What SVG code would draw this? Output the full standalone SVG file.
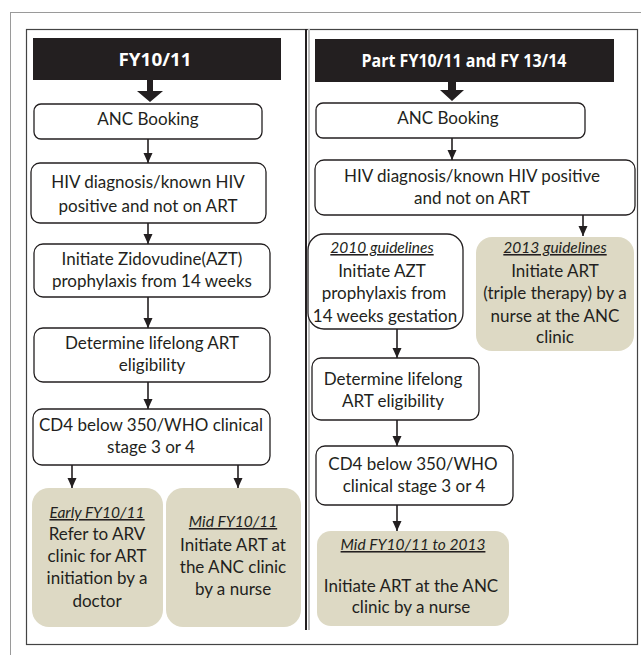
<svg xmlns="http://www.w3.org/2000/svg" width="641" height="655" viewBox="0 0 641 655">
<defs>
<style>
.box{fill:#fff;stroke:#231f20;stroke-width:1.3}
.tan{fill:#ddd9c4;stroke:none}
.t{font-family:Lato,"Liberation Sans",sans-serif;font-size:17px;fill:#231f20;text-anchor:middle}
.i{font-style:italic;text-decoration:underline;font-size:15.5px}
.h{font-family:"Open Sans","Liberation Sans",sans-serif;font-weight:bold;font-size:17.5px;fill:#fff;text-anchor:middle}
.ln{stroke:#231f20;stroke-width:1.6;fill:none}
</style>
<marker id="ah" markerWidth="11" markerHeight="11" refX="10" refY="5" orient="auto" markerUnits="userSpaceOnUse">
<path d="M0,0.5 L10,5 L0,9.5 Z" fill="#231f20"/>
</marker>
</defs>
<rect width="641" height="655" fill="#fff"/>
<rect x="10.5" y="12.5" width="700" height="700" fill="none" stroke="#9a9a9a" stroke-width="1"/>
<rect x="26.5" y="29.5" width="611" height="615" fill="none" stroke="#444" stroke-width="1.2"/>
<g id="divider">
<line x1="309" y1="29" x2="309" y2="630" stroke="#bbb" stroke-width="2"/>
<line x1="306" y1="29" x2="306" y2="630" stroke="#231f20" stroke-width="2"/>
</g>

<g id="left-header">
<rect x="33" y="38" width="248" height="42" fill="#231f20"/>
<text class="h" x="155" y="66" textLength="73" lengthAdjust="spacingAndGlyphs">FY10/11</text>
</g>
<g id="right-header">
<rect x="315" y="39" width="299" height="43" fill="#231f20"/>
<text class="h" x="464" y="67" textLength="205" lengthAdjust="spacingAndGlyphs">Part FY10/11 and FY 13/14</text>
</g>

<g id="L-anc">
<rect class="box" x="34" y="104" width="228" height="35" rx="7"/>
<text class="t" x="148" y="125">ANC Booking</text>
</g>
<g id="L-hiv">
<rect class="box" x="31" y="163" width="235" height="60" rx="9"/>
<text class="t" x="148" y="188">HIV diagnosis/known HIV</text>
<text class="t" x="148" y="212">positive and not on ART</text>
</g>
<g id="L-azt">
<rect class="box" x="34" y="244" width="236" height="53" rx="9"/>
<text class="t" x="152" y="265">Initiate Zidovudine(AZT)</text>
<text class="t" x="152" y="287">prophylaxis from 14 weeks</text>
</g>
<g id="L-det">
<rect class="box" x="34" y="328" width="236" height="54" rx="9"/>
<text class="t" x="152" y="349">Determine lifelong ART</text>
<text class="t" x="152" y="371">eligibility</text>
</g>
<g id="L-cd4">
<rect class="box" x="33" y="409" width="237" height="56" rx="9"/>
<text class="t" x="151" y="431">CD4 below 350/WHO clinical</text>
<text class="t" x="151" y="453">stage 3 or 4</text>
</g>
<g id="L-early">
<rect class="tan" x="32" y="488" width="131" height="139" rx="17"/>
<text class="t i" x="97" y="518">Early FY10/11</text>
<text class="t" x="97" y="540">Refer to ARV</text>
<text class="t" x="97" y="562">clinic for ART</text>
<text class="t" x="97" y="584">initiation by a</text>
<text class="t" x="97" y="607">doctor</text>
</g>
<g id="L-mid">
<rect class="tan" x="166" y="488" width="135" height="139" rx="17"/>
<text class="t i" x="233" y="527">Mid FY10/11</text>
<text class="t" x="233" y="551">Initiate ART at</text>
<text class="t" x="233" y="573">the ANC clinic</text>
<text class="t" x="233" y="595">by a nurse</text>
</g>

<g id="R-anc">
<rect class="box" x="316" y="103" width="269" height="35" rx="7"/>
<text class="t" x="448" y="124">ANC Booking</text>
</g>
<g id="R-hiv">
<rect class="box" x="315" y="160" width="320" height="55" rx="9"/>
<text class="t" x="472" y="182">HIV diagnosis/known HIV positive</text>
<text class="t" x="472" y="204">and not on ART</text>
</g>
<g id="R-2010">
<rect class="box" x="308" y="234" width="155" height="95" rx="16"/>
<text class="t i" x="382" y="253">2010 guidelines</text>
<text class="t" x="382" y="277">Initiate AZT</text>
<text class="t" x="384" y="299">prophylaxis from</text>
<text class="t" x="385" y="322">14 weeks gestation</text>
</g>
<g id="R-2013">
<rect class="tan" x="476" y="237" width="158" height="114" rx="16"/>
<text class="t i" x="555" y="253">2013 guidelines</text>
<text class="t" x="555" y="277">Initiate ART</text>
<text class="t" x="555" y="299">(triple therapy) by a</text>
<text class="t" x="555" y="322">nurse at the ANC</text>
<text class="t" x="555" y="343">clinic</text>
</g>
<g id="R-det">
<rect class="box" x="312" y="358" width="167" height="62" rx="9"/>
<text class="t" x="393" y="385">Determine lifelong</text>
<text class="t" x="393" y="407">ART eligibility</text>
</g>
<g id="R-cd4">
<rect class="box" x="316" y="446" width="197" height="59" rx="9"/>
<text class="t" x="413" y="470">CD4 below 350/WHO</text>
<text class="t" x="414" y="492">clinical stage 3 or 4</text>
</g>
<g id="R-mid">
<rect class="tan" x="317" y="531" width="192" height="95" rx="14"/>
<text class="t i" x="413" y="550">Mid FY10/11 to 2013</text>
<text class="t" x="411" y="592">Initiate ART at the ANC</text>
<text class="t" x="411" y="613">clinic by a nurse</text>
</g>

<g id="connectors">
<polygon points="147,80 153,80 153,91 163,91 150,102 137,91 147,91" fill="#231f20"/>
<polygon points="448,82 456,82 456,90 464,90 452,101 440,90 448,90" fill="#231f20"/>
<line class="ln" x1="148" y1="139" x2="148" y2="163" marker-end="url(#ah)"/>
<line class="ln" x1="148" y1="223" x2="148" y2="244" marker-end="url(#ah)"/>
<line class="ln" x1="148" y1="297" x2="148" y2="328" marker-end="url(#ah)"/>
<line class="ln" x1="148" y1="382" x2="148" y2="409" marker-end="url(#ah)"/>
<line class="ln" x1="72" y1="465" x2="72" y2="488" marker-end="url(#ah)"/>
<line class="ln" x1="238" y1="465" x2="238" y2="488" marker-end="url(#ah)"/>
<line class="ln" x1="452" y1="138" x2="452" y2="160" marker-end="url(#ah)"/>
<line class="ln" x1="583" y1="215" x2="583" y2="236" marker-end="url(#ah)"/>
<line class="ln" x1="397" y1="329" x2="397" y2="358" marker-end="url(#ah)"/>
<line class="ln" x1="397" y1="420" x2="397" y2="446" marker-end="url(#ah)"/>
<line class="ln" x1="397" y1="505" x2="397" y2="531" marker-end="url(#ah)"/>
</g>
</svg>
